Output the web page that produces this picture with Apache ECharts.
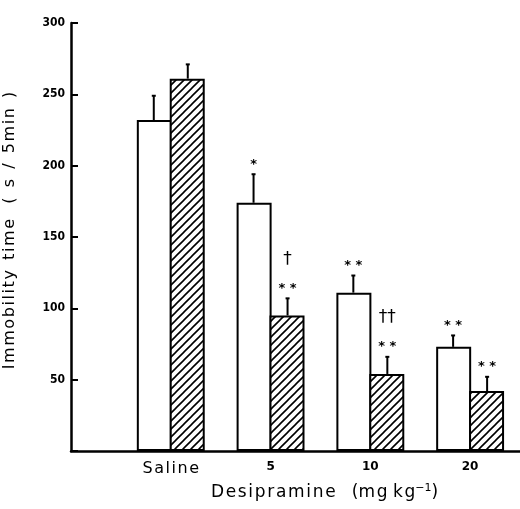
<!DOCTYPE html>
<html>
<head>
<meta charset="utf-8">
<script src="https://cdn.jsdelivr.net/npm/echarts@6/dist/echarts.min.js"></script>
<style>
  html, body { margin: 0; padding: 0; background: #fff; }
  #chart { width: 520px; height: 509px; }
</style>
</head>
<body>
<div id="chart"></div>
<script>
var categories = ['Saline', '5', '10', '20'];
var controlMeans = [232, 174, 111, 73];
var controlSem = [17, 20, 12, 8];
var treatedMeans = [261, 95, 54, 42];
var treatedSem = [10, 12, 12, 10];
var controlStars = ['', '*', '* *', '* *'];
var treatedStars = ['', '* *', '* *', '* *'];
var treatedDaggers = ['', '\u2020', '\u2020\u2020', ''];

// the figure's lettering is widely spaced, hair spaces between letters
function spaced(s) {
  return s.split('').join('\u200A');
}

// diagonal hatch tile for the second bar series
function makeHatch() {
  var n = 8;
  var c = document.createElement('canvas');
  c.width = n;
  c.height = n;
  var g = c.getContext('2d');
  g.fillStyle = '#fff';
  g.fillRect(0, 0, n, n);
  g.strokeStyle = '#000';
  g.lineWidth = 1.6;
  g.beginPath();
  g.moveTo(-1, n + 1); g.lineTo(n + 1, -1);
  g.moveTo(-1, 1); g.lineTo(1, -1);
  g.moveTo(n - 1, n + 1); g.lineTo(n + 1, n - 1);
  g.stroke();
  return c;
}

function toPairs(vals) {
  return vals.map(function (v, i) { return [i + 1, v]; });
}
function toErr(means, sem) {
  return means.map(function (v, i) { return [i + 1, v, sem[i]]; });
}

// error bar + significance marks drawn above a bar, side -1 = left bar, 1 = right bar
function errRender(side, stars, daggers) {
  return function (params, api) {
    var i = params.dataIndex;
    var x = api.value(0), m = api.value(1), e = api.value(2);
    var base = api.coord([x, m]);
    var top = api.coord([x, m + e]);
    var cx = base[0] + side * 17;
    var kids = [
      { type: 'line', shape: { x1: cx, y1: base[1], x2: cx, y2: top[1] }, style: { stroke: '#000', lineWidth: 2 } },
      { type: 'line', shape: { x1: cx - 2, y1: top[1], x2: cx + 2, y2: top[1] }, style: { stroke: '#000', lineWidth: 2 } }
    ];
    if (stars[i]) {
      kids.push({ type: 'text', style: { text: stars[i], x: cx, y: top[1] - 10, align: 'center', verticalAlign: 'middle',
        font: 'bold 13px "DejaVu Sans"', fill: '#000' } });
    }
    if (daggers && daggers[i]) {
      kids.push({ type: 'text', style: { text: daggers[i], x: cx, y: top[1] - 39, align: 'center', verticalAlign: 'middle',
        font: '17px "DejaVu Sans"', fill: '#000' } });
    }
    return { type: 'group', children: kids };
  };
}

var chart = echarts.init(document.getElementById('chart'));
var option = {
  animation: false,
  backgroundColor: '#fff',
  grid: { left: 71, right: 0, top: 23, bottom: 58, outerBoundsMode: 'none' },
  xAxis: {
    type: 'value',
    min: 0,
    max: 4.5,
    interval: 1,
    name: spaced('Desipramine') + '   (' + spaced('mg') + ' ' + spaced('kg') + '{sup|\u22121})',
    nameLocation: 'middle',
    nameGap: 32,
    nameTextStyle: {
      fontFamily: 'DejaVu Sans', fontSize: 17, color: '#000', padding: [0, 0, 0, 58],
      rich: { sup: { fontFamily: 'DejaVu Sans', fontSize: 11, color: '#000', padding: [0, 0, 9, 0] } }
    },
    splitLine: { show: false },
    axisTick: { show: false },
    axisLine: { lineStyle: { color: '#000', width: 2.5 } },
    axisLabel: {
      margin: 10,
      showMaxLabel: false,
      formatter: function (v) {
        var c = categories[v - 1];
        if (!c) return '';
        return v === 1 ? '{s|' + spaced(c) + '}' : '{n|' + c + '}';
      },
      rich: {
        s: { fontFamily: 'DejaVu Sans', fontSize: 16, color: '#000' },
        n: { fontFamily: 'DejaVu Sans', fontSize: 12, fontWeight: 'bold', color: '#000' }
      }
    }
  },
  yAxis: {
    type: 'value',
    min: 0,
    max: 300,
    interval: 50,
    name: spaced('Immobility') + '  ' + spaced('time') + '   (  s  /  ' + spaced('5min') + '  )',
    nameLocation: 'middle',
    nameGap: 53,
    nameTextStyle: { fontFamily: 'DejaVu Sans', fontSize: 16, color: '#000', padding: [0, 0, 0, 13] },
    splitLine: { show: false },
    axisLine: { show: true, lineStyle: { color: '#000', width: 2.5 } },
    axisTick: { show: true, inside: true, length: 7, lineStyle: { color: '#000', width: 2 } },
    axisLabel: {
      margin: 6,
      color: '#000',
      fontFamily: 'DejaVu Sans Condensed',
      fontWeight: 'bold',
      fontSize: 12,
      formatter: function (v) { return v === 0 ? '' : String(v); }
    }
  },
  series: [
    {
      name: 'Control',
      type: 'bar',
      barWidth: 35,
      barGap: '-6%',
      itemStyle: { color: '#fff', borderColor: '#000', borderWidth: 2 },
      data: toPairs(controlMeans)
    },
    {
      name: 'Pretreated',
      type: 'bar',
      barWidth: 35,
      barGap: '-6%',
      itemStyle: { color: { image: makeHatch(), repeat: 'repeat' }, borderColor: '#000', borderWidth: 2 },
      data: toPairs(treatedMeans)
    },
    {
      type: 'custom',
      renderItem: errRender(-1, controlStars, null),
      data: toErr(controlMeans, controlSem),
      z: 5
    },
    {
      type: 'custom',
      renderItem: errRender(1, treatedStars, treatedDaggers),
      data: toErr(treatedMeans, treatedSem),
      z: 5
    }
  ]
};
chart.setOption(option);
</script>
</body>
</html>
